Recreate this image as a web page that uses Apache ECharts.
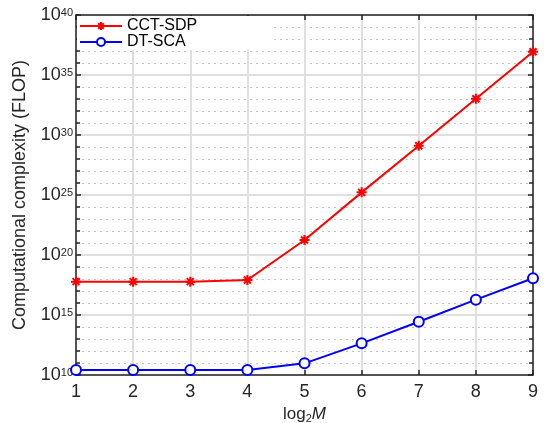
<!DOCTYPE html>
<html><head><meta charset="utf-8">
<script src="https://cdn.jsdelivr.net/npm/echarts@6/dist/echarts.min.js"></script>
<style>html,body{margin:0;padding:0;background:#fff}#c{width:544px;height:423px}</style>
</head><body><div id="c"></div>
<script>
// x: log2 M, y: log10 of FLOP
const xValues = [1, 2, 3, 4, 5, 6, 7, 8, 9];
const cctSdpLog = [17.78, 17.78, 17.78, 17.92, 21.25, 25.22, 29.1, 33.02, 36.94];
const dtScaLog = [10.42, 10.42, 10.42, 10.42, 10.97, 12.64, 14.44, 16.28, 18.06];
const yTicks = [10, 15, 20, 25, 30, 35, 40];
const seriesNames = ['CCT-SDP', 'DT-SCA'];

const FONT = 'Liberation Sans, Arial, Helvetica, sans-serif';
const axisCol = '#262626';
const chart = echarts.init(document.getElementById('c'));
const star = 'path://M0,-10L0,10M-10,0L10,0M-7,-7L7,7M-7,7L7,-7';
const pair = a => xValues.map((x, i) => [x, a[i]]);

chart.setOption({
  animation: false,
  grid: { left: 76, right: 11, top: 15, bottom: 48, outerBoundsMode: 'none', containLabel: false },
  legend: {
    left: 77, top: 16, orient: 'vertical',
    backgroundColor: '#fff', padding: [2, 77, 0, 2],
    itemWidth: 42, itemHeight: 10, itemGap: 0,
    textStyle: { fontFamily: FONT, fontSize: 16, color: '#000' },
    data: seriesNames
  },
  xAxis: [{
    type: 'value', min: 1, max: 9, interval: 1, position: 'bottom',
    name: '{a|log}{s|2}{m|M}', nameLocation: 'middle', nameGap: 27,
    nameTextStyle: { rich: {
      a: { fontFamily: FONT, fontSize: 17, lineHeight: 17, color: '#262626', verticalAlign: 'top' },
      s: { fontFamily: FONT, fontSize: 11, lineHeight: 11, color: '#262626', verticalAlign: 'top', padding: [8, 0, 0, 0] },
      m: { fontFamily: FONT, fontSize: 17, lineHeight: 17, fontStyle: 'italic', color: '#262626', verticalAlign: 'top' } } },
    axisLine: { onZero: false, lineStyle: { color: axisCol, width: 1.5 } },
    axisTick: { inside: true, length: 5, lineStyle: { color: axisCol, width: 1.5 } },
    axisLabel: { fontFamily: FONT, fontSize: 18, color: '#262626', margin: 8 },
    splitLine: { show: true, lineStyle: { color: '#dfdfdf', width: 2 } }
  }, {
    type: 'value', min: 1, max: 9, interval: 1, position: 'top',
    axisLine: { onZero: false, lineStyle: { color: axisCol, width: 1.5 } },
    axisTick: { inside: true, length: 5, lineStyle: { color: axisCol, width: 1.5 } },
    axisLabel: { show: false }, splitLine: { show: false }
  }],
  yAxis: [{
    type: 'value', min: 10, max: 40, interval: 5, position: 'left',
    name: 'Computational complexity (FLOP)', nameLocation: 'middle', nameGap: 47,
    nameTextStyle: { fontFamily: FONT, fontSize: 18, color: '#262626' },
    axisLine: { onZero: false, lineStyle: { color: axisCol, width: 1.5 } },
    axisTick: { inside: true, length: 5, lineStyle: { color: axisCol, width: 1.5 } },
    minorTick: { show: true, splitNumber: 5, length: 4, lineStyle: { color: axisCol, width: 1.5 } },
    axisLabel: {
      margin: 3,
      formatter: v => '{b|10}{e|' + v + '}',
      rich: {
        b: { fontFamily: FONT, fontSize: 18, lineHeight: 18, color: '#262626', verticalAlign: 'top' },
        e: { fontFamily: FONT, fontSize: 11, lineHeight: 11, color: '#262626', verticalAlign: 'top', padding: [1, 0, 0, 0] }
      }
    },
    splitLine: { show: true, lineStyle: { color: '#dfdfdf', width: 2 } },
    minorSplitLine: { show: true, lineStyle: { color: '#c4c4c4', width: 1.2, type: [2, 4] } }
  }, {
    type: 'value', min: 10, max: 40, interval: 5, position: 'right',
    axisLine: { onZero: false, lineStyle: { color: axisCol, width: 1.5 } },
    axisTick: { inside: true, length: 5, lineStyle: { color: axisCol, width: 1.5 } },
    minorTick: { show: true, splitNumber: 5, length: 4, lineStyle: { color: axisCol, width: 1.5 } },
    axisLabel: { show: false }, splitLine: { show: false }
  }],
  series: [{
    name: seriesNames[0], type: 'line', data: pair(cctSdpLog),
    symbol: star, symbolSize: 10, color: '#ff0000',
    lineStyle: { color: '#ff0000', width: 2 },
    itemStyle: { color: '#ff0000', borderColor: '#ff0000', borderWidth: 2 }
  }, {
    name: seriesNames[1], type: 'line', data: pair(dtScaLog),
    symbol: 'circle', symbolSize: 10, color: '#0000ff',
    lineStyle: { color: '#0000ff', width: 2 },
    itemStyle: { color: '#fff', borderColor: '#0000ff', borderWidth: 2 }
  }]
});
</script></body></html>
